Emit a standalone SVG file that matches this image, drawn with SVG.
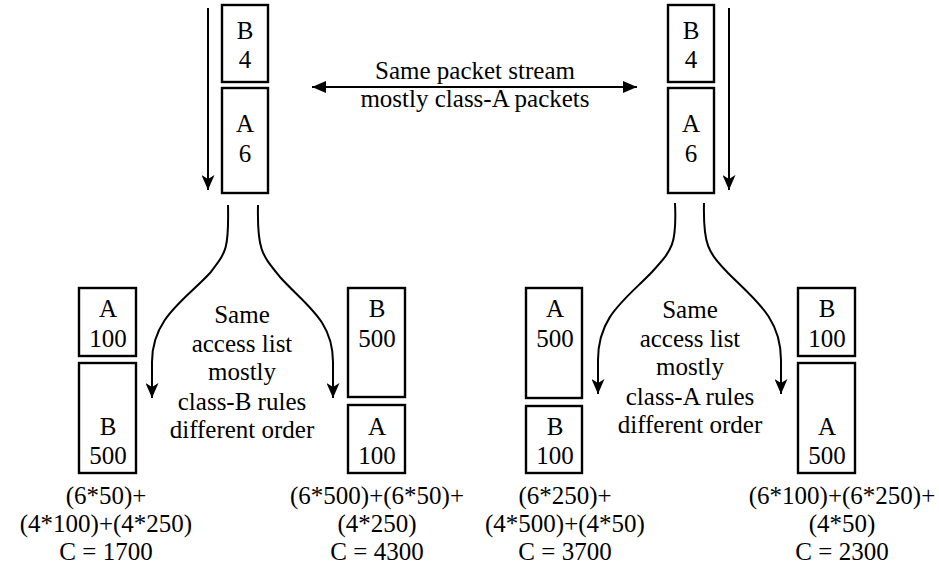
<svg xmlns="http://www.w3.org/2000/svg" width="939" height="570" viewBox="0 0 939 570">
<style>
  .t text { font-family: 'Liberation Serif', 'Times New Roman', serif; font-size: 25px; fill: #000; text-anchor: middle; }
  .box { fill: #fff; stroke: #000; stroke-width: 2.4; }
  .conn { fill: none; stroke: #000; stroke-width: 2; }
</style>
<defs>
  <marker id="ah" markerUnits="userSpaceOnUse" markerWidth="16" markerHeight="13" refX="15" refY="6.5" orient="auto-start-reverse">
    <path d="M0,0 L15,6.5 L0,13 L4,6.5 z" fill="#000"/>
  </marker>
  <marker id="tri" markerUnits="userSpaceOnUse" markerWidth="16" markerHeight="12" refX="14" refY="6" orient="auto-start-reverse">
    <path d="M0,0 L14,6 L0,12 z" fill="#000"/>
  </marker>
</defs>

<g id="connectors">
  <line class="conn" x1="208" y1="8" x2="208" y2="190" marker-end="url(#ah)"/>
  <line class="conn" x1="729" y1="8" x2="729" y2="190" marker-end="url(#ah)"/>
  <line class="conn" x1="312" y1="87" x2="637" y2="87" marker-start="url(#tri)" marker-end="url(#tri)"/>
  <path class="conn" d="M228,205 C229,250 226,252 210,273 C185,300 152,318 152,362 L152,398" marker-end="url(#ah)"/>
  <path class="conn" d="M258,205 C257,250 262,255 280,277 C305,305 333,320 333,362 L333,398" marker-end="url(#ah)"/>
  <path class="conn" d="M675,203 C677,245 672,250 652,272 C625,300 598,316 598,360 L598,394" marker-end="url(#ah)"/>
  <path class="conn" d="M704,203 C703,245 708,252 728,273 C755,300 781,318 781,360 L781,394" marker-end="url(#ah)"/>
</g>

<g class="t">
<g id="top-left-B4"><rect class="box" x="222" y="5" width="46" height="77"/><text x="245" y="39">B</text><text x="245" y="68">4</text></g>
<g id="top-left-A6"><rect class="box" x="222" y="88" width="46" height="105"/><text x="245" y="132">A</text><text x="245" y="162">6</text></g>
<g id="top-right-B4"><rect class="box" x="668" y="5" width="46" height="77"/><text x="691" y="39">B</text><text x="691" y="68">4</text></g>
<g id="top-right-A6"><rect class="box" x="668" y="88" width="46" height="105"/><text x="691" y="132">A</text><text x="691" y="162">6</text></g>

<g id="stream-label"><text x="475" y="79">Same packet stream</text><text x="475" y="107">mostly class-A packets</text></g>

<g id="l1-A100"><rect class="box" x="79" y="288" width="57" height="68"/><text x="108" y="317">A</text><text x="108" y="347">100</text></g>
<g id="l1-B500"><rect class="box" x="79" y="363" width="57" height="110"/><text x="108" y="435">B</text><text x="108" y="464">500</text></g>

<g id="l2-B500"><rect class="box" x="348" y="288" width="57" height="109"/><text x="377" y="317">B</text><text x="377" y="347">500</text></g>
<g id="l2-A100"><rect class="box" x="348" y="405" width="57" height="68"/><text x="377" y="435">A</text><text x="377" y="464">100</text></g>

<g id="r1-A500"><rect class="box" x="526" y="288" width="56" height="110"/><text x="555" y="317">A</text><text x="555" y="347">500</text></g>
<g id="r1-B100"><rect class="box" x="526" y="406" width="56" height="67"/><text x="555" y="435">B</text><text x="555" y="464">100</text></g>

<g id="r2-B100"><rect class="box" x="798" y="288" width="57" height="68"/><text x="827" y="317">B</text><text x="827" y="347">100</text></g>
<g id="r2-A500"><rect class="box" x="798" y="363" width="57" height="110"/><text x="827" y="435">A</text><text x="827" y="464">500</text></g>

<g id="left-acl-label">
  <text x="242" y="323">Same</text><text x="242" y="352">access list</text><text x="242" y="380">mostly</text><text x="242" y="410">class-B rules</text><text x="242" y="438">different order</text>
</g>
<g id="right-acl-label">
  <text x="690" y="318">Same</text><text x="690" y="347">access list</text><text x="690" y="375">mostly</text><text x="690" y="405">class-A rules</text><text x="690" y="433">different order</text>
</g>

<g id="cost-1"><text x="106" y="504">(6*50)+</text><text x="106" y="532">(4*100)+(4*250)</text><text x="106" y="560">C = 1700</text></g>
<g id="cost-2"><text x="377" y="504">(6*500)+(6*50)+</text><text x="377" y="532">(4*250)</text><text x="377" y="560">C = 4300</text></g>
<g id="cost-3"><text x="565" y="504">(6*250)+</text><text x="565" y="532">(4*500)+(4*50)</text><text x="565" y="560">C = 3700</text></g>
<g id="cost-4"><text x="842" y="504">(6*100)+(6*250)+</text><text x="842" y="532">(4*50)</text><text x="842" y="560">C = 2300</text></g>
</g>
</svg>
